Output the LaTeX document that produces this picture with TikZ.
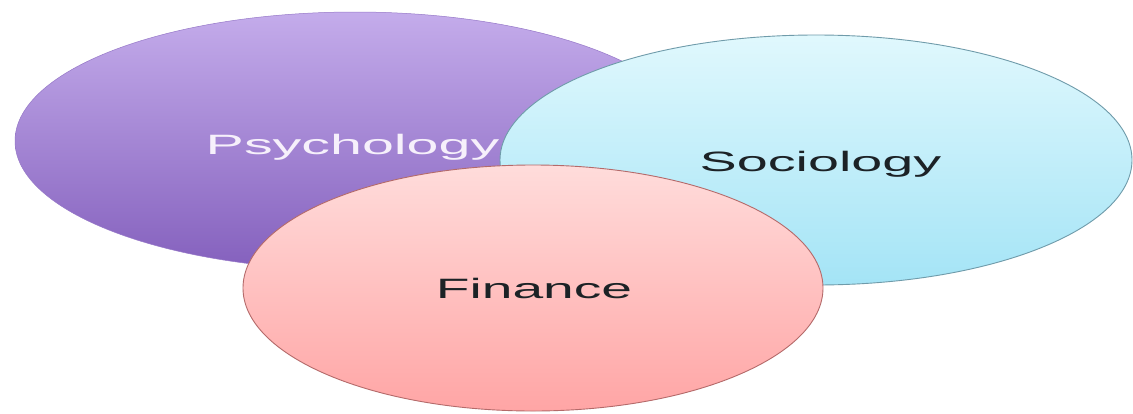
\documentclass[tikz,border=0pt]{standalone}
\usepackage{fontspec}
\setmainfont{Liberation Sans}
\usetikzlibrary{shapes.geometric}

\definecolor{psyTop}{HTML}{C4ACEB}
\definecolor{psyBot}{HTML}{8460BD}
\definecolor{psyLine}{HTML}{9678C8}
\definecolor{socTop}{HTML}{E0F8FD}
\definecolor{socBot}{HTML}{A4E4F6}
\definecolor{socLine}{HTML}{6F9BAA}
\definecolor{finTop}{HTML}{FFDCDB}
\definecolor{finBot}{HTML}{FFA5A5}
\definecolor{finLine}{HTML}{B46A6A}
\definecolor{darkText}{HTML}{1C2226}
\definecolor{lightText}{HTML}{F6F0FB}

\begin{document}
\begin{tikzpicture}[x=1pt,y=-1pt,
  blob/.style={ellipse, inner sep=0pt},
  lbl/.style={anchor=base, inner sep=0pt, font=\fontsize{28}{30}\selectfont}]
\useasboundingbox[fill=white] (0,0) rectangle (1133,413);

% the three overlapping fields
\node[blob, minimum width=680pt, minimum height=258pt,
      top color=psyTop, bottom color=psyBot, draw=psyLine, line width=0.5pt]
      (psy) at (355,141) {};
\node[blob, minimum width=632pt, minimum height=250pt,
      top color=socTop, bottom color=socBot, draw=socLine, line width=0.9pt]
      (soc) at (816,160) {};
\node[blob, minimum width=580pt, minimum height=246pt,
      top color=finTop, bottom color=finBot, draw=finLine, line width=0.9pt]
      (fin) at (533,288) {};

% labels
\node[lbl, text=lightText] (psyText) at (352.5,154) {\scalebox{2.05}[1]{Psychology}};
\node[lbl, text=darkText] (socText) at (820.5,171) {\scalebox{1.99}[1]{Sociology}};
\node[lbl, text=darkText] (finText) at (534,298) {\scalebox{1.97}[1]{Finance}};
\end{tikzpicture}
\end{document}
